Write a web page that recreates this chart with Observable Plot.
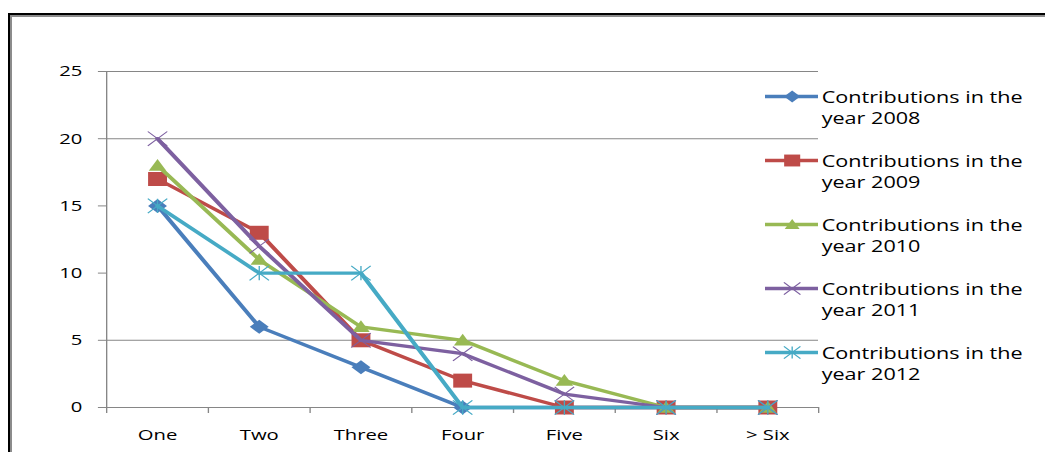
<!DOCTYPE html>
<html><head><meta charset="utf-8">
<script src="https://cdn.jsdelivr.net/npm/d3@7"></script>
<script src="https://cdn.jsdelivr.net/npm/@observablehq/plot@0.6"></script>
<style>
html,body{margin:0;padding:0;background:#fff;overflow:hidden;width:1045px;height:452px;}
#wrap{position:relative;width:1045px;height:452px;overflow:hidden;background:#fff;}
#wrap svg{position:absolute;left:0;top:0;}
</style></head><body>
<div id="wrap">
  <svg width="1045" height="452" style="position:absolute;left:0;top:0">
    <path d="M9,452V14H1045" fill="none" stroke="#000" stroke-width="2"/>
    <path d="M11,452V16H1045" fill="none" stroke="#8c8c8c" stroke-width="2"/>
  </svg>
</div>
<script>
// ---- data ----
const categories = ["One", "Two", "Three", "Four", "Five", "Six", "> Six"];
const seriesLabels = [
  "Contributions in the year 2008",
  "Contributions in the year 2009",
  "Contributions in the year 2010",
  "Contributions in the year 2011",
  "Contributions in the year 2012"
];
const values2008 = [15, 6, 3, 0, 0, 0, 0];
const values2009 = [17, 13, 5, 2, 0, 0, 0];
const values2010 = [18, 11, 6, 5, 2, 0, 0];
const values2011 = [20, 12, 5, 4, 1, 0, 0];
const values2012 = [15, 10, 10, 0, 0, 0, 0];
const yTicks = [0, 5, 10, 15, 20, 25];
const gridValues = [5, 20, 25];

// ---- styles ----
const colors = ["#4A7EBB", "#BE4B48", "#98B954", "#7D60A0", "#46AAC5"];
const rOf = size => Math.sqrt(size / Math.PI);
const symbols = [
  {draw(c, s) { const r = rOf(s); c.moveTo(0, -r); c.lineTo(r, 0); c.lineTo(0, r); c.lineTo(-r, 0); c.closePath(); }},
  {draw(c, s) { const r = rOf(s); c.moveTo(-r, -r); c.lineTo(r, -r); c.lineTo(r, r); c.lineTo(-r, r); c.closePath(); }},
  {draw(c, s) { const r = rOf(s); c.moveTo(0, -r); c.lineTo(r, 0.8 * r); c.lineTo(-r, 0.8 * r); c.closePath(); }},
  {draw(c, s) { const r = rOf(s); c.moveTo(-r, -r); c.lineTo(r, r); c.moveTo(r, -r); c.lineTo(-r, r); }},
  {draw(c, s) { const r = rOf(s); c.moveTo(-r, -r); c.lineTo(r, r); c.moveTo(r, -r); c.lineTo(-r, r); c.moveTo(0, -r); c.lineTo(0, r); }}
];
const filled = [true, true, true, false, false];
const symR = [7, 7, 6.5, 7.2, 7.2];

const allValues = [values2008, values2009, values2010, values2011, values2012];
const series = seriesLabels.map((name, k) => ({name, values: allValues[k], color: colors[k], symbol: symbols[k], filled: filled[k], r: symR[k]}));
const rows = [];
series.forEach(s => s.values.forEach((v, i) => rows.push({series: s.name, cat: categories[i], x: i + 0.5, value: v})));

// ---- geometry (source is horizontally stretched) ----
const W = 774, H = 452, S = 1045 / W;
const px = v => v / S;
const font = "'Open Sans', sans-serif";
const gray = "#868686";

function stretch(svg) {
  svg.setAttribute("width", 1045);
  svg.setAttribute("height", H);
  svg.setAttribute("viewBox", `0 0 ${W} ${H}`);
  svg.setAttribute("preserveAspectRatio", "none");
  svg.style.maxWidth = "none";
  return svg;
}

const seriesMarks = [];
series.forEach(s => {
  const d = rows.filter(r => r.series === s.name);
  seriesMarks.push(Plot.line(d, {x: "x", y: "value", stroke: s.color, strokeWidth: 3.3, strokeLinejoin: "round", strokeLinecap: "round"}));
  seriesMarks.push(Plot.dot(d, s.filled
    ? {x: "x", y: "value", symbol: () => s.symbol, r: s.r, fill: s.color, stroke: "none"}
    : {x: "x", y: "value", symbol: () => s.symbol, r: s.r, fill: "none", stroke: s.color, strokeWidth: 1}));
});

const chart = Plot.plot({
  width: W, height: H,
  marginLeft: px(106), marginRight: px(1045 - 818), marginTop: 71, marginBottom: 45,
  style: {fontFamily: font, fontSize: "15px", color: "#000", background: "transparent"},
  x: {type: "linear", domain: [0, categories.length], axis: null},
  y: {domain: [0, 25], axis: null},
  symbol: {type: "identity"},
  marks: [
    Plot.gridY(gridValues, {stroke: gray, strokeOpacity: 1, strokeWidth: 1}),
    Plot.ruleY([0], {stroke: gray, strokeWidth: 1}),
    Plot.ruleX([0], {y1: 0, y2: 25, stroke: gray, strokeWidth: 1}),
    Plot.axisY(yTicks, {tickSize: 6, tickPadding: 12, stroke: gray, fill: "#000", fontSize: 15, label: null}),
    Plot.axisX(d3.range(0, categories.length + 1), {tickSize: 6, stroke: gray, fill: "none", label: null}),
    Plot.axisX(categories.map((c, i) => i + 0.5), {tickSize: 0, tickPadding: 22, fill: "#000", fontSize: 15, label: null, tickFormat: d => categories[Math.floor(d)]}),
    ...seriesMarks
  ]
});
document.getElementById("wrap").appendChild(stretch(chart));

// ---- legend ----
const legendMarks = [];
series.forEach(s => {
  const d = [s];
  legendMarks.push(Plot.ruleY(d, {y: "name", x1: 0, x2: 1, stroke: s.color, strokeWidth: 3.3}));
  legendMarks.push(Plot.dot(d, s.filled
    ? {x: () => 0.5, y: "name", symbol: () => s.symbol, r: s.r * 0.85, fill: s.color, stroke: "none"}
    : {x: () => 0.5, y: "name", symbol: () => s.symbol, r: s.r * 0.85, fill: "none", stroke: s.color, strokeWidth: 1}));
  legendMarks.push(Plot.text(d, {x: () => 1, y: "name", text: r => r.name.replace(" year", "\nyear"), textAnchor: "start", lineAnchor: "middle", lineHeight: 1.3, dx: px(3), dy: 10.5, fill: "#000", fontSize: 16}));
});
const legend = Plot.plot({
  width: W, height: H,
  style: {fontFamily: font, fontSize: "16px", color: "#000", background: "transparent"},
  x: {type: "linear", domain: [0, 1], range: [px(765), px(818)], axis: null},
  y: {type: "point", domain: seriesLabels, range: [95, 352], padding: 0, axis: null},
  symbol: {type: "identity"},
  marks: legendMarks
});
document.getElementById("wrap").appendChild(stretch(legend));
</script>
</body></html>
